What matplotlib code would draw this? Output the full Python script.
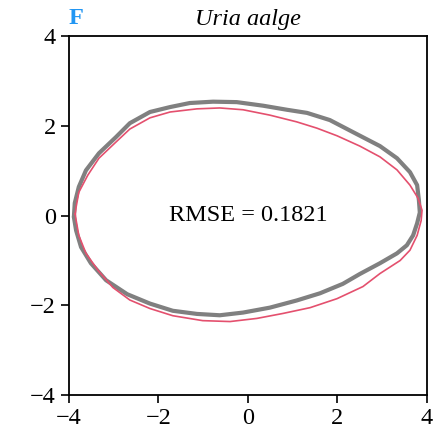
import matplotlib.pyplot as plt

plt.rcParams['font.family'] = ['Liberation Serif', 'DejaVu Serif']

obs_x = [-3.89, -3.87, -3.78, -3.62, -3.33, -2.95, -2.64, -2.19, -1.74, -1.30,
         -0.78, -0.25, 0.34, 0.87, 1.32, 1.83, 2.35, 2.95, 3.33, 3.62,
         3.78, 3.82, 3.84, 3.78, 3.69, 3.55, 3.33, 2.95, 2.50, 2.12,
         1.61, 1.09, 0.49, -0.11, -0.63, -1.14, -1.68, -2.19, -2.70, -3.17,
         -3.51, -3.73, -3.84, -3.89]
obs_y = [-0.03, 0.28, 0.64, 1.01, 1.39, 1.75, 2.06, 2.31, 2.42, 2.51,
         2.54, 2.53, 2.45, 2.36, 2.29, 2.13, 1.86, 1.55, 1.28, 0.97,
         0.68, 0.34, 0.07, -0.17, -0.44, -0.66, -0.84, -1.06, -1.30, -1.52,
         -1.73, -1.89, -2.05, -2.16, -2.22, -2.19, -2.12, -1.96, -1.75, -1.44,
         -1.06, -0.70, -0.33, -0.03]

# fitted model outline (red)
fit_x = [-3.86, -3.84, -3.78, -3.58, -3.33, -2.95, -2.64, -2.19, -1.74, -1.14,
         -0.63, -0.11, 0.49, 1.09, 1.54, 1.99, 2.50, 2.95, 3.33, 3.62,
         3.80, 3.89, 3.87, 3.78, 3.62, 3.40, 2.95, 2.57, 1.99, 1.39,
         0.78, 0.20, -0.40, -1.01, -1.68, -2.19, -2.64, -3.02, -3.35, -3.62,
         -3.78, -3.84, -3.86]
fit_y = [0.04, 0.19, 0.52, 0.90, 1.28, 1.64, 1.93, 2.18, 2.31, 2.38,
         2.40, 2.36, 2.24, 2.09, 1.95, 1.78, 1.55, 1.31, 1.02, 0.68,
         0.39, 0.12, -0.11, -0.44, -0.77, -1.00, -1.29, -1.58, -1.85, -2.05,
         -2.18, -2.29, -2.36, -2.34, -2.23, -2.07, -1.88, -1.60, -1.22, -0.84,
         -0.44, -0.10, 0.04]

ticks = [-4, -2, 0, 2, 4]

fig = plt.figure(figsize=(4.42, 4.41), dpi=100)
ax = fig.add_axes([0.156, 0.104, 0.81, 0.814])

ax.plot(obs_x, obs_y, color='#808080', lw=3.0, solid_joinstyle='round',
        solid_capstyle='round')
ax.plot(fit_x, fit_y, color='#e4506e', lw=1.2, solid_joinstyle='round')

ax.set_xlim(-4, 4)
ax.set_ylim(-4, 4)
ax.set_xticks(ticks)
ax.set_yticks(ticks)
ax.tick_params(labelsize=17.5, length=6, width=1.2, direction='out')
for s in ax.spines.values():
    s.set_linewidth(1.3)

ax.text(0, 0, 'RMSE = 0.1821', ha='center', va='center', fontsize=17.5)
ax.set_title('Uria aalge', fontsize=17.5, style='italic', pad=8)
ax.text(0.0, 1.02, 'F', transform=ax.transAxes, fontsize=17.5,
        fontweight='bold', color='#2196f3', ha='left', va='bottom')

fig.savefig('out.png', dpi=100)
